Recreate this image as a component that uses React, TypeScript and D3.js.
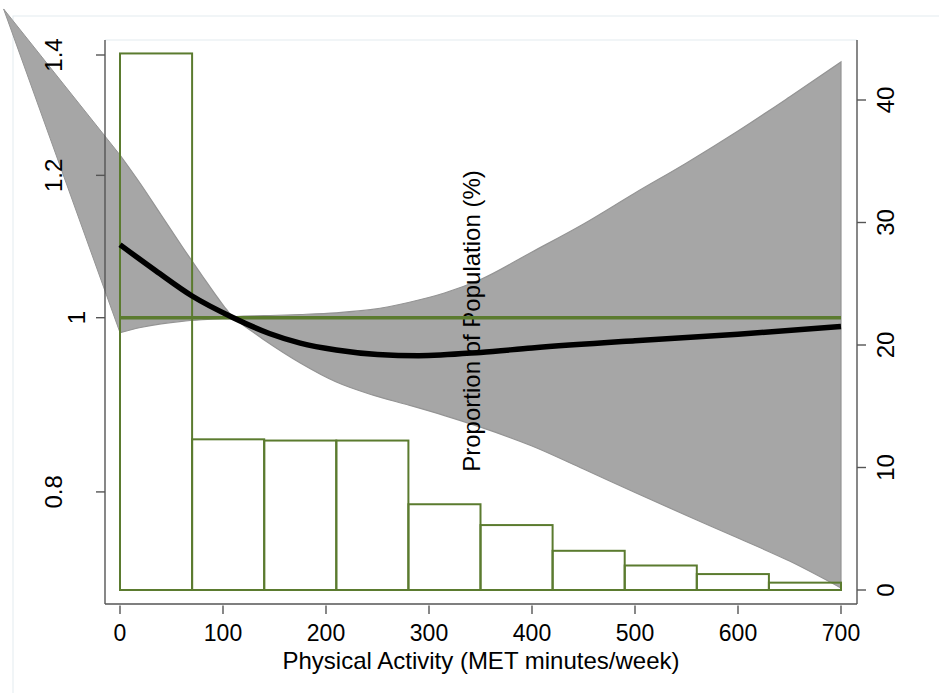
import React from 'react';
import * as d3 from 'd3';

// histogram: share of population (%) in 70 MET-minute bins
const binStarts = [0, 70, 140, 210, 280, 350, 420, 490, 560, 630];
const binWidth = 70;
const binPercent = [43.8, 12.3, 12.2, 12.2, 7.0, 5.3, 3.2, 2.0, 1.3, 0.6];

// fitted relative risk
const fitX = [0, 35, 70, 110, 145, 175, 210, 250, 290, 350, 400, 500, 600, 700];
const fitRR = [1.098, 1.0617, 1.0282, 1.0, 0.98, 0.968, 0.9595, 0.954, 0.9525, 0.9565, 0.962, 0.971, 0.979, 0.9888];

// 95% confidence band
const ciX = [0, 20, 40, 60, 80, 95, 103, 110, 120, 140, 175, 210, 245, 280, 315, 350, 400, 450, 500, 550, 600, 650, 700];
const ciUpper = [1.2317, 1.1868, 1.1406, 1.0962, 1.0549, 1.0256, 1.0112, 1.0015, 1.0019, 1.0026, 1.0041, 1.0063, 1.0106, 1.0197, 1.0321, 1.0501, 1.0878, 1.1275, 1.1732, 1.2192, 1.2701, 1.3267, 1.3875];
const ciLower = [0.981, 0.9875, 0.9922, 0.9954, 0.9974, 0.9985, 0.9988, 0.9991, 0.9901, 0.9718, 0.9436, 0.9209, 0.9058, 0.8942, 0.8822, 0.8692, 0.8485, 0.8238, 0.7994, 0.7762, 0.7541, 0.7322, 0.7074];
// stray vertex of the band that sticks out past the plot at top-left
const ciSpike = { x: -113, upper: 1.485 };

const leftTicks = [0.8, 1, 1.2, 1.4];
const rightTicks = [0, 10, 20, 30, 40];
const xTicks = [0, 100, 200, 300, 400, 500, 600, 700];

const GREEN = '#5b7b2f';
const FONT = '"Liberation Sans", Arial, sans-serif';

const App: React.FC = () => {
  const width = 939;
  const height = 693;

  const x = d3.scaleLinear().domain([0, 700]).range([120, 841]);
  const yRR = d3.scaleLog().domain([1, 1.4]).range([317.7, 55]);
  const yPct = d3.scaleLinear().domain([0, 40]).range([590, 100]);

  const axisLeft = 105;
  const axisRight = 857;
  const axisBottom = 604;
  const plotTop = 40;

  const band = d3.area<number>()
    .x(d => x(ciX[d]))
    .y0(d => yRR(ciLower[d]))
    .y1(d => yRR(ciUpper[d]))
    .curve(d3.curveMonotoneX)(ciX.map((_, i) => i)) || '';

  const spike = `M${x(ciSpike.x)},${yRR(ciSpike.upper)}L${x(0)},${yRR(ciUpper[0])}L${x(0)},${yRR(ciLower[0])}Z`;

  const fitLine = d3.line<number>()
    .x(d => x(fitX[d]))
    .y(d => yRR(fitRR[d]))
    .curve(d3.curveMonotoneX)(fitX.map((_, i) => i)) || '';

  return (
    <svg width={width} height={height} style={{ position: 'absolute', left: 0, top: 0, background: '#fff' }}
      fontFamily={FONT}>
      {/* outer graph frame and plot region top */}
      <rect x={13} y={16} width={960} height={720} fill="none" stroke="#e3ebef" strokeWidth={1} />
      <line x1={axisLeft} x2={axisRight} y1={plotTop} y2={plotTop} stroke="#e3ebef" strokeWidth={1} />

      {/* confidence band */}
      <path d={spike} fill="#a6a6a6" stroke="#949494" strokeWidth={1} />
      <path d={band} fill="#a6a6a6" stroke="#949494" strokeWidth={1.2} />

      {/* right axis title sits in the middle of the plot */}
      <text transform={`translate(480,321) rotate(-90)`} textAnchor="middle" fontSize={24} fill="#000">
        Proportion of Population (%)
      </text>

      {/* histogram */}
      {binStarts.map((b, i) => (
        <rect key={b} x={x(b)} y={yPct(binPercent[i])} width={x(b + binWidth) - x(b)}
          height={yPct(0) - yPct(binPercent[i])} fill="none" stroke={GREEN} strokeWidth={2} />
      ))}

      {/* reference line at RR = 1 */}
      <line x1={x(0)} x2={x(700)} y1={yRR(1)} y2={yRR(1)} stroke={GREEN} strokeWidth={3.5} />

      {/* fitted curve */}
      <path d={fitLine} fill="none" stroke="#000" strokeWidth={5.5} strokeLinejoin="round" />

      {/* axes */}
      <g stroke="#555" strokeWidth={1.4}>
        <line x1={axisLeft} x2={axisLeft} y1={plotTop} y2={axisBottom} />
        <line x1={axisRight} x2={axisRight} y1={plotTop} y2={axisBottom} />
        <line x1={axisLeft} x2={axisRight} y1={axisBottom} y2={axisBottom} />
        {leftTicks.map(t => (
          <line key={'l' + t} x1={axisLeft - 9} x2={axisLeft} y1={yRR(t)} y2={yRR(t)} />
        ))}
        {rightTicks.map(t => (
          <line key={'r' + t} x1={axisRight} x2={axisRight + 9} y1={yPct(t)} y2={yPct(t)} />
        ))}
        {xTicks.map(t => (
          <line key={'x' + t} x1={x(t)} x2={x(t)} y1={axisBottom + 1.5} y2={axisBottom + 10} />
        ))}
      </g>

      {leftTicks.map(t => {
        const label = String(t);
        const bx = 62 + (3 - label.length) * 11.5;
        return (
          <text key={'lt' + t} transform={`translate(${bx},${yRR(t)}) rotate(-90)`} textAnchor="middle"
            fontSize={24} fill="#000">{label}</text>
        );
      })}
      {rightTicks.map(t => (
        <text key={'rt' + t} transform={`translate(894,${yPct(t)}) rotate(-90)`} textAnchor="middle"
          fontSize={24} fill="#000">{t}</text>
      ))}
      {xTicks.map(t => (
        <text key={'xt' + t} x={x(t)} y={641} textAnchor="middle" fontSize={23} fill="#000">{t}</text>
      ))}
      <text x={481} y={669} textAnchor="middle" fontSize={24} fill="#000">
        Physical Activity (MET minutes/week)
      </text>
    </svg>
  );
};

export default App;
